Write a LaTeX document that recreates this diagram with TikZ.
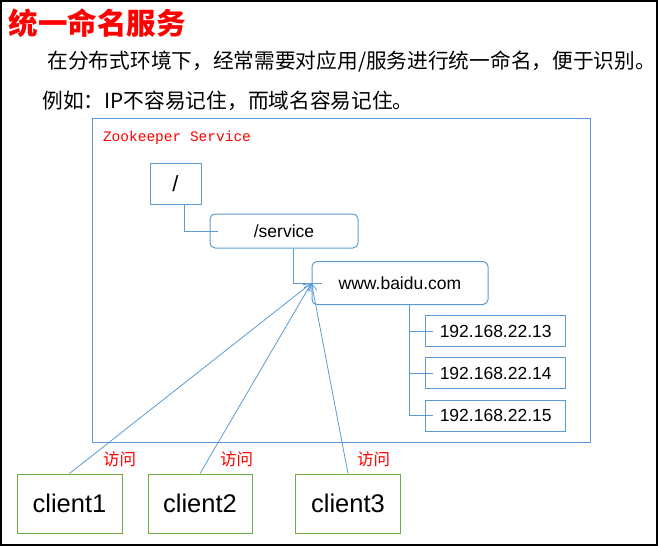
\documentclass[tikz,border=0pt]{standalone}
\usepackage{fontspec}
\setmainfont{Liberation Sans}
\newfontfamily\cjk{Noto Sans CJK SC}
\newfontfamily\zkmono{Liberation Mono}
\usetikzlibrary{arrows.meta}
\definecolor{zkblue}{RGB}{91,155,213}
\definecolor{zkgreen}{RGB}{112,173,71}
\begin{document}
\begin{tikzpicture}[x=1pt,y=-1pt,
    znode/.style={draw=zkblue,line width=1pt,inner sep=0pt,font=\fontsize{17.5}{20}\selectfont},
    zround/.style={znode,rounded corners=5pt},
    client/.style={draw=zkgreen,line width=1pt,inner sep=0pt,minimum width=105pt,minimum height=59pt,
                   font=\fontsize{25.5}{28}\selectfont},
    visit/.style={text=red,font=\cjk\fontsize{16.5}{18}\selectfont},
    link/.style={draw=zkblue,line width=0.8pt}]
  \useasboundingbox (0,0) rectangle (658,546);
  \draw[line width=2pt] (1,1) rectangle (657,545);
  % title and text
  \node[anchor=west,text=red,font=\cjk\bfseries\fontsize{29.5}{33}\selectfont] (title) at (5,23) {统一命名服务};
  \node[anchor=west,font=\cjk\fontsize{20.7}{24}\selectfont] (line1) at (44,62)
    {在分布式环境下，经常需要对应用/服务进行统一命名，便于识别。};
  \node[anchor=west,font=\cjk\fontsize{20.7}{24}\selectfont] (line2) at (39,101)
    {例如：IP不容易记住，而域名容易记住。};
  % zookeeper service
  \draw[zkblue,line width=1pt] (92,118) rectangle (590,442);
  \node[anchor=west,text=red,font=\zkmono\fontsize{14.5}{16}\selectfont] (zk) at (99.5,138) {Zookeeper Service};
  \node[znode,minimum width=51pt,minimum height=41pt,font=\fontsize{22}{24}\selectfont] (root) at (175.5,183.5) {/};
  \node[zround,minimum width=148pt,minimum height=34pt] (service) at (284,231) {/service};
  \node[zround,minimum width=176pt,minimum height=43pt] (www) at (400,283) {www.baidu.com};
  \node[znode,minimum width=140pt,minimum height=31pt] (ip13) at (495.7,331.3) {192.168.22.13};
  \node[znode,minimum width=140pt,minimum height=31pt] (ip14) at (495.7,373.3) {192.168.22.14};
  \node[znode,minimum width=140pt,minimum height=31pt] (ip15) at (495.7,415.8) {192.168.22.15};
  \draw[link] ([xshift=8.5pt]root.south) |- ([xshift=8pt]service.west);
  \draw[link] ([xshift=9.5pt]service.south) |- ([xshift=10pt]www.west);
  \foreach \ip in {ip13,ip14,ip15}
    \draw[link] ([xshift=9pt]www.south) |- ([xshift=8pt]\ip.west);
  % clients
  \node[client] (c1) at (69.5,503.5) {client1};
  \node[client,minimum width=104pt] (c2) at (200,503.5) {client2};
  \node[client] (c3) at (348,503.5) {client3};
  \foreach \c in {c1,c2,c3}
    \draw[link,-{Straight Barb[length=7pt,width=8pt]}] (\c.north) -- (www.west);
  \node[visit] (v1) at (119.5,459) {访问};
  \node[visit] (v2) at (236.5,459) {访问};
  \node[visit] (v3) at (373.5,459) {访问};
\end{tikzpicture}
\end{document}
